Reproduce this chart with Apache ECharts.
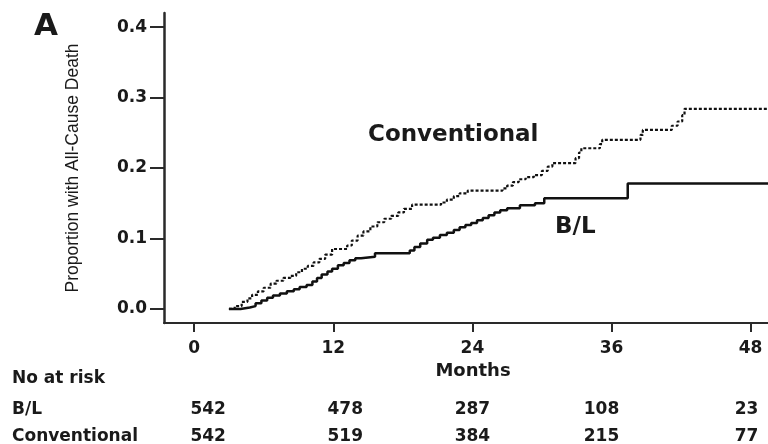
<!DOCTYPE html>
<html>
<head>
<meta charset="utf-8">
<script src="https://cdn.jsdelivr.net/npm/echarts@6/dist/echarts.min.js"></script>
<style>
html,body{margin:0;padding:0;background:#fff;}
#chart{width:768px;height:444px;}
</style>
</head>
<body>
<div id="chart"></div>
<script>
// ---- data ----
var xTicks = [0, 12, 24, 36, 48];
var yTicks = [0, 0.1, 0.2, 0.3, 0.4];

var convMonths = [3.0,3.5,4.1,4.6,5.0,5.5,6.0,6.6,7.1,7.7,8.3,8.8,9.3,9.8,10.3,10.8,11.3,11.9,13.2,13.6,14.1,14.6,15.2,15.8,16.4,17.0,17.6,18.1,18.8,21.3,21.8,22.4,22.9,23.6,26.6,27.0,27.5,28.0,28.6,29.3,30.0,30.5,30.9,32.9,33.2,33.4,35.0,35.2,38.5,38.7,41.2,41.7,42.1,42.3,49.5];
var convProb   = [0.000,0.004,0.010,0.015,0.020,0.025,0.030,0.036,0.040,0.044,0.047,0.052,0.057,0.061,0.066,0.071,0.077,0.085,0.090,0.097,0.104,0.110,0.117,0.123,0.128,0.132,0.137,0.142,0.148,0.151,0.155,0.160,0.164,0.168,0.171,0.175,0.180,0.184,0.187,0.190,0.196,0.202,0.207,0.214,0.222,0.228,0.234,0.240,0.247,0.254,0.260,0.266,0.275,0.284,0.284];

var blMonths = [3.0,4.0,4.8,5.3,5.8,6.3,6.8,7.4,8.0,8.6,9.1,9.7,10.2,10.6,11.0,11.5,11.9,12.4,12.9,13.4,13.9,14.4,15.6,18.6,19.0,19.5,20.1,20.6,21.2,21.8,22.4,22.9,23.4,23.9,24.4,24.9,25.4,25.9,26.4,27.0,28.1,29.4,30.2,37.4,49.5];
var blProb   = [0.000,0.002,0.004,0.008,0.012,0.016,0.019,0.022,0.025,0.028,0.031,0.034,0.039,0.044,0.049,0.053,0.057,0.062,0.065,0.069,0.072,0.074,0.079,0.083,0.088,0.093,0.098,0.101,0.105,0.108,0.112,0.116,0.119,0.122,0.126,0.129,0.133,0.137,0.140,0.143,0.147,0.150,0.157,0.178,0.178];

var riskTitle = "No at risk";
var riskGroups = ["B/L", "Conventional"];
var riskBL   = [542, 478, 287, 108, 23];
var riskConv = [542, 519, 384, 215, 77];

var panelLabel = "A";
var yTitle = "Proportion with All-Cause Death";
var xTitle = "Months";

// ---- chart ----
function pairs(xs, ys){ return xs.map(function(x,i){ return [x, ys[i]]; }); }

var BOLD = "DejaVu Sans";
var chart = echarts.init(document.getElementById('chart'), null, {renderer:'canvas'});
var axisColor = '#2a2a2a';

var option = {
  animation: false,
  backgroundColor: '#ffffff',
  grid: {left: 164, right: 0, top: 13, bottom: 121, containLabel: false},
  xAxis: {
    type: 'value', min: -2.6, max: 49.5,
    splitLine: {show: false},
    axisLine: {show: true, onZero: false, lineStyle: {color: axisColor, width: 2}},
    axisTick: {show: true, customValues: xTicks, length: 9, lineStyle: {color: axisColor, width: 2}},
    axisLabel: {customValues: xTicks, margin: 17, fontFamily: BOLD, fontWeight: 'bold', fontSize: 17, color: '#1a1a1a'},
    name: xTitle, nameLocation: 'middle', nameGap: 35,
    nameTextStyle: {fontFamily: BOLD, fontWeight: 'bold', fontSize: 18, color: '#1a1a1a', padding: [0,0,0,14]}
  },
  yAxis: {
    type: 'value', min: -0.02, max: 0.42,
    splitLine: {show: false},
    axisLine: {show: true, onZero: false, lineStyle: {color: axisColor, width: 2.5}},
    axisTick: {show: true, customValues: yTicks, length: 14, lineStyle: {color: axisColor, width: 2}},
    axisLabel: {customValues: yTicks, margin: 17, fontFamily: BOLD, fontWeight: 'bold', fontSize: 17, color: '#1a1a1a',
      formatter: function(v){ return v.toFixed(1); }},
    name: yTitle, nameLocation: 'middle', nameGap: 82, nameRotate: 90,
    nameTextStyle: {fontFamily: 'Liberation Sans', fontSize: 17.5, color: '#1a1a1a'}
  },
  series: [
    {
      name: 'Conventional', type: 'line', step: 'end', showSymbol: false, symbol: 'none',
      data: pairs(convMonths, convProb),
      lineStyle: {color: '#111', width: 2.2, type: [3, 2]}
    },
    {
      name: 'B/L', type: 'line', step: 'end', showSymbol: false, symbol: 'none',
      data: pairs(blMonths, blProb),
      lineStyle: {color: '#111', width: 2.5, type: 'solid'}
    }
  ]
};
chart.setOption(option);

// annotations & at-risk table
var tickPx = xTicks.map(function(m){ return chart.convertToPixel({xAxisIndex:0}, m); });
var colShift = [14, 12, 0, -10, -4];
var txt = function(x, y, s, size, align){
  return {type: 'text', silent: true, style: {text: String(s), x: x, y: y, fill: '#1a1a1a',
    font: 'bold ' + size + 'px "' + BOLD + '"', textAlign: align || 'left', textVerticalAlign: 'middle'}};
};
var g = [];
g.push(txt(34, 27, panelLabel, 31, 'left'));
g.push(txt(368, 135, 'Conventional', 23, 'left'));
g.push(txt(555, 227, 'B/L', 23, 'left'));
g.push(txt(12, 379, riskTitle, 17, 'left'));
g.push(txt(12, 410, riskGroups[0], 17, 'left'));
g.push(txt(12, 437, riskGroups[1], 17, 'left'));
riskBL.forEach(function(v, i){ g.push(txt(tickPx[i] + colShift[i], 410, v, 17, 'center')); });
riskConv.forEach(function(v, i){ g.push(txt(tickPx[i] + colShift[i], 437, v, 17, 'center')); });
chart.setOption({graphic: g});
</script>
</body>
</html>
